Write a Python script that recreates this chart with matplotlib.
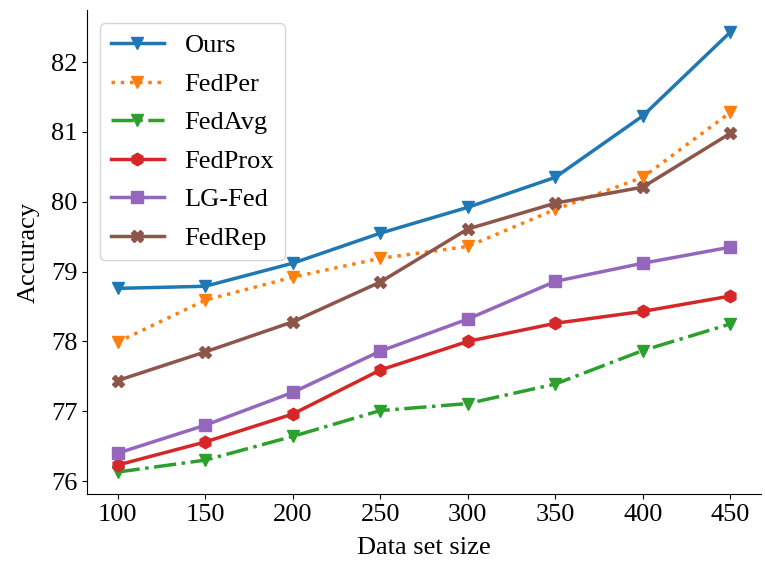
import numpy as np
import matplotlib.pyplot as plt

plt.rcParams['font.family'] = ['Liberation Serif', 'DejaVu Serif']
plt.rcParams['font.size'] = 19

sizes = [100, 150, 200, 250, 300, 350, 400, 450]
ours = [78.76, 78.79, 79.12, 79.55, 79.92, 80.35, 81.23, 82.43]
fedper = [77.99, 78.59, 78.92, 79.19, 79.36, 79.89, 80.35, 81.28]
fedavg = [76.13, 76.30, 76.64, 77.01, 77.11, 77.39, 77.87, 78.25]
fedprox = [76.23, 76.56, 76.96, 77.59, 78.00, 78.26, 78.43, 78.65]
lgfed = [76.40, 76.80, 77.27, 77.86, 78.32, 78.86, 79.12, 79.35]
fedrep = [77.44, 77.85, 78.28, 78.85, 79.61, 79.98, 80.21, 80.98]

fig = plt.figure(figsize=(7.65, 5.61), dpi=100)
ax = fig.add_axes([0.1137, 0.1194, 0.881, 0.8626])

lw = 2.5; ms = 9
ax.plot(sizes, ours, '-', marker='v', color='#1f77b4', lw=lw, ms=ms, label='Ours')
ax.plot(sizes, fedper, ':', marker='v', color='#ff7f0e', lw=lw, ms=ms, label='FedPer')
ax.plot(sizes, fedavg, '-.', marker='v', color='#2ca02c', lw=lw, ms=ms, label='FedAvg')
ax.plot(sizes, fedprox, '-', marker='h', color='#d62728', lw=lw, ms=ms, label='FedProx')
ax.plot(sizes, lgfed, '-', marker='s', color='#9467bd', lw=lw, ms=ms, label='LG-Fed')
ax.plot(sizes, fedrep, '-', marker='X', color='#8c564b', lw=lw, ms=ms, label='FedRep')

ax.spines['top'].set_visible(False)
ax.spines['right'].set_visible(False)
ax.set_xticks(sizes)
ax.set_xlabel("Data set size", labelpad=8)
ax.set_ylabel("Accuracy", labelpad=8)
ax.legend(loc='upper left', prop={'size': 19}, labelspacing=0.57)

fig.savefig('out.png', dpi=100)
